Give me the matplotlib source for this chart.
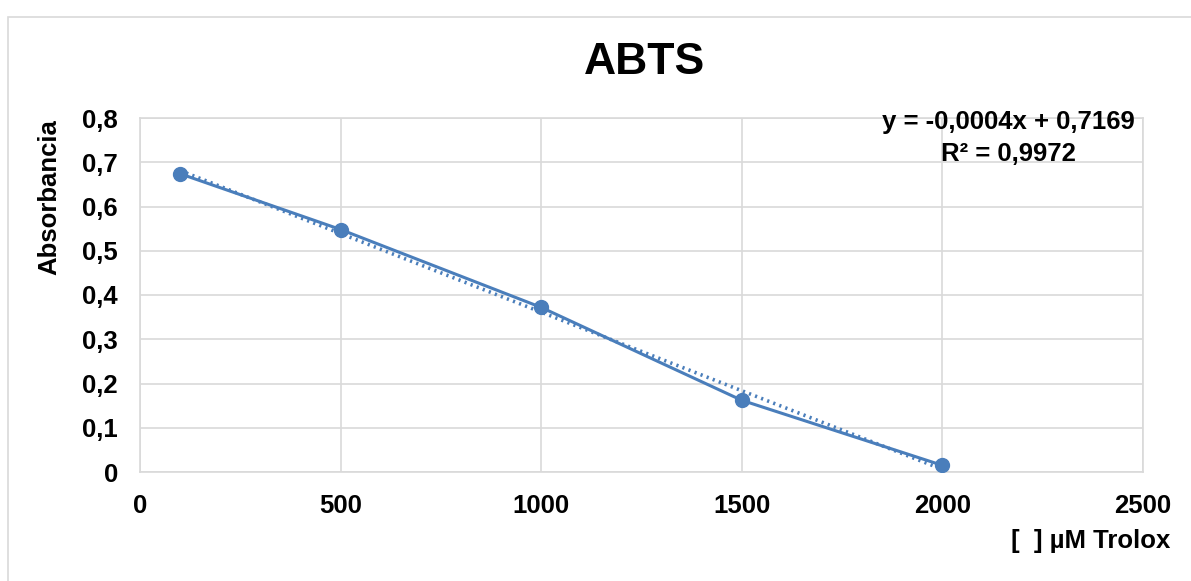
import numpy as np
import matplotlib.pyplot as plt
from matplotlib.patches import Rectangle

# data
trolox = [100, 500, 1000, 1500, 2000]
absorb = [0.674, 0.548, 0.372, 0.162, 0.015]
xticks = [0, 500, 1000, 1500, 2000, 2500]
yticks = [0, 0.1, 0.2, 0.3, 0.4, 0.5, 0.6, 0.7, 0.8]

plt.rcParams['font.family'] = ['Liberation Sans', 'DejaVu Sans']
blue = '#4a7ebb'
grid = '#d9d9d9'
fs = 18.5

fig = plt.figure(figsize=(11.91, 5.81), dpi=100)
ax = fig.add_axes([140 / 1191, 1 - 472 / 581, 1003 / 1191, 354 / 581])

# chart outer frame
fig.patches.append(Rectangle((8 / 1191, -0.01), 1.0, 1 - 17 / 581 + 0.01, transform=fig.transFigure,
                             fill=False, edgecolor=grid, linewidth=1.2))

# linear trendline
slope, icpt = np.polyfit(trolox, absorb, 1)
xs = np.array([trolox[0], trolox[-1]])
ax.plot(xs, slope * xs + icpt, color=blue, linestyle=(0, (0.6, 1.2)), linewidth=2.6, zorder=3)

ax.plot(trolox, absorb, color=blue, linewidth=2.2, marker='o', markersize=10, zorder=4)

ax.set_xlim(0, 2500)
ax.set_ylim(0, 0.8)
ax.set_xticks(xticks)
ax.set_yticks(yticks)
ax.set_xticklabels([str(t) for t in xticks])
ax.set_yticklabels(['0' if t == 0 else f'{t:.1f}'.replace('.', ',') for t in yticks])
ax.tick_params(length=0, labelsize=fs)
for lab in ax.get_xticklabels() + ax.get_yticklabels():
    lab.set_fontweight('bold')
ax.tick_params(axis='x', pad=16)
ax.tick_params(axis='y', pad=16)

ax.grid(True, color=grid, linewidth=1.2)
ax.set_axisbelow(True)
for s in ax.spines.values():
    s.set_color(grid)
    s.set_linewidth(1.2)

fig.text(645 / 1191, 1 - 63 / 581, 'ABTS', fontsize=32, fontweight='bold', ha='center', va='center')
fig.text(49 / 1191, 1 - 197 / 581, 'Absorbancia', fontsize=fs, fontweight='bold', rotation=90,
         ha='center', va='center')
fig.text(1170 / 1191, 1 - 541 / 581, '[  ] µM Trolox', fontsize=fs, fontweight='bold', ha='right', va='center')
fig.text(1008 / 1191, 1 - 122 / 581, 'y = -0,0004x + 0,7169', fontsize=fs, fontweight='bold',
         ha='center', va='center')
fig.text(1008 / 1191, 1 - 154 / 581, 'R² = 0,9972', fontsize=fs, fontweight='bold', ha='center', va='center')

fig.savefig('out.png', dpi=100)
